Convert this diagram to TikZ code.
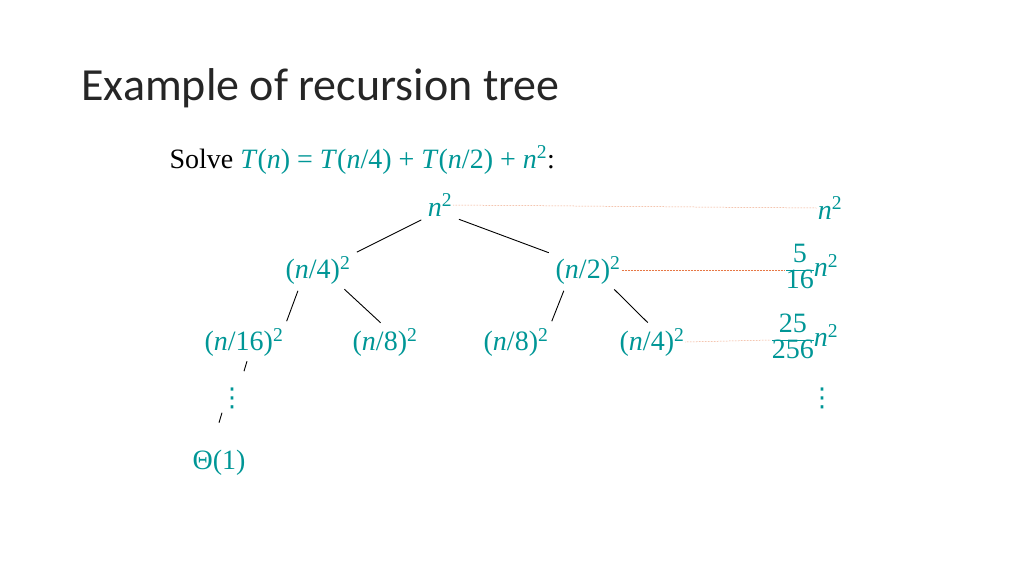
\documentclass[tikz,border=0pt]{standalone}
\usepackage{fontspec}
\setmainfont{Liberation Serif}
\newfontfamily\titlefont{Carlito}
\newfontfamily\dotfont{DejaVu Sans}
\usetikzlibrary{positioning}
\definecolor{termcol}{RGB}{0,150,150}
\definecolor{guidecol}{RGB}{230,120,70}
\newcommand{\sq}{\textsuperscript{2}}
\newcommand{\fr}[2]{{\renewcommand\arraystretch{0.85}\begin{tabular}[c]{@{}c@{}}#1\\\hline #2\end{tabular}}}
\tikzset{
	term/.style={text=termcol, font=\fontsize{28}{30}\selectfont, inner sep=1pt},
	vdot/.style={text=termcol, font=\dotfont\fontsize{26}{28}\selectfont, inner sep=0pt},
	branch/.style={line width=0.9pt, shorten <=6pt, shorten >=6pt},
	guide/.style={guidecol, densely dotted, line width=0.5pt}
}
\begin{document}
\begin{tikzpicture}[x=1pt, y=-1pt]
\useasboundingbox (0,0) rectangle (1024,576);
\node[anchor=base west, font=\titlefont\fontsize{46}{50}\selectfont, text=black!85] (title) at (78,100) {Example of recursion tree};
\node[anchor=base west, font=\fontsize{28}{30}\selectfont] (task) at (166,168)
	{Solve \textcolor{termcol}{\textit{T}(\textit{n}) = \textit{T}(\textit{n}/4) + \textit{T}(\textit{n}/2) + \textit{n}\sq}:};
% tree
\node[term] (root) at (440,205) {\textit{n}\sq};
\node[term] (l) at (318,270) {(\textit{n}/4)\sq};
\node[term] (r) at (588,270) {(\textit{n}/2)\sq};
\node[term] (ll) at (244,342) {(\textit{n}/16)\sq};
\node[term] (lr) at (385,342) {(\textit{n}/8)\sq};
\node[term] (rl) at (516,342) {(\textit{n}/8)\sq};
\node[term] (rr) at (652,342) {(\textit{n}/4)\sq};
\node[vdot] (dots) at (232,398) {⋮};
\node[term] (leaf) at (219,463) {Θ(1)};
\draw[branch] (root.south west) -- (l.north east);
\draw[branch] (root.south east) -- (r.north west);
\draw[branch] (l.south) ++(-18,0) coordinate (la) -- (ll.north east);
\draw[branch] (l.south) ++(22,0) coordinate (lb) -- (lr.north);
\draw[branch] (r.south) ++(-22,0) coordinate (ra) -- (rl.north east);
\draw[branch] (r.south) ++(22,0) coordinate (rb) -- (rr.north);
\draw[line width=0.9pt] (ll.south) ++(3,4) coordinate (da) -- ++(-3,10);
\draw[line width=0.9pt] (dots.south) ++(-10,4) coordinate (db) -- ++(-3,10);
% level sums
\node[term] (s0) at (830,208) {\textit{n}\sq};
\node[term] (s1) at (812,270) {\fr{5}{16}\textit{n}\sq};
\node[term] (s2) at (805,340) {\fr{25}{256}\textit{n}\sq};
\node[vdot] (s3) at (822,398) {⋮};
\draw[guide] (root.east) -- (s0.west);
\draw[guide] (r.east) -- (s1.west);
\draw[guide] (rr.east) -- (s2.west);
\end{tikzpicture}
\end{document}
